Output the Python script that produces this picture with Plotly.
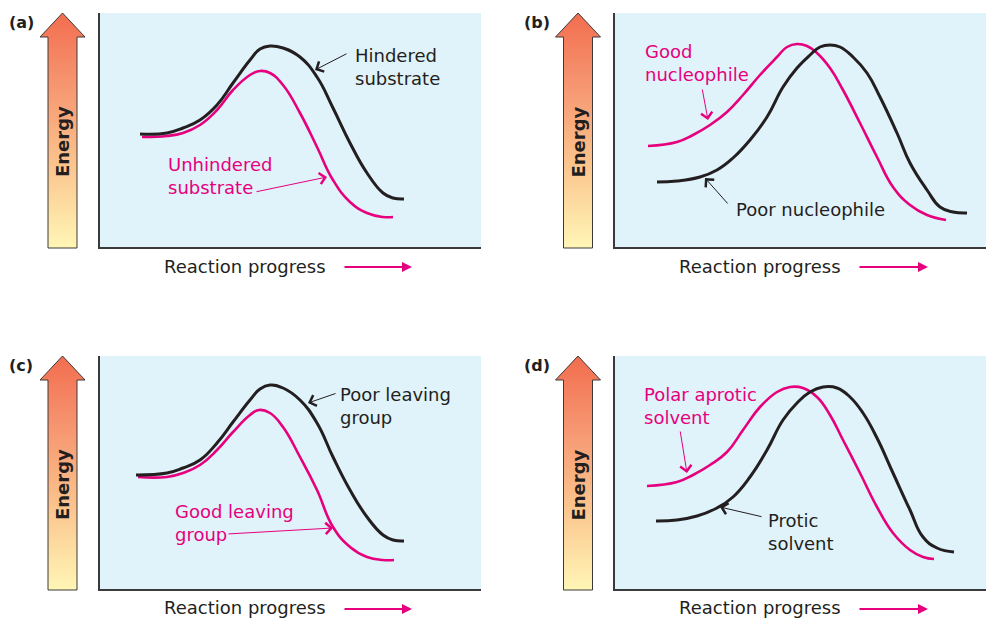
import plotly.graph_objects as go

W, H = 986, 619

# curves: reaction progress (x) vs energy (y) in box units
A_HINDERED_X = [40, 67, 83, 100, 117, 133, 150, 160, 170, 183, 200, 217, 233, 250, 267, 283, 293, 304]
A_HINDERED_Y = [113, 114, 119, 127, 142, 164, 187, 198, 201, 199, 190, 170, 139, 104, 74, 54, 49, 48]
A_UNHINDERED_X = [42, 67, 83, 100, 117, 133, 150, 160, 170, 183, 200, 217, 233, 250, 267, 283, 293]
A_UNHINDERED_Y = [110, 111, 114, 122, 137, 157, 172, 176, 174, 162, 134, 100, 67, 45, 34, 30, 30]

B_POOR_NU_X = [42, 62, 85, 102, 118, 135, 152, 168, 182, 195, 205, 215, 225, 238, 252, 265, 282, 295, 312, 325, 338, 352]
B_POOR_NU_Y = [65, 66, 70, 77, 89, 107, 130, 160, 179, 192, 200, 202, 200, 190, 174, 150, 114, 84, 57, 40, 35, 34]
B_GOOD_NU_X = [33, 62, 78, 95, 112, 128, 145, 162, 172, 182, 192, 202, 215, 228, 245, 262, 278, 295, 312, 331]
B_GOOD_NU_Y = [101, 105, 112, 122, 135, 152, 172, 190, 200, 203, 201, 194, 179, 157, 124, 90, 60, 42, 32, 27]

C_POOR_LG_X = [36, 67, 83, 100, 117, 133, 150, 160, 170, 183, 200, 217, 233, 250, 267, 283, 293, 304]
C_POOR_LG_Y = [114, 116, 121, 129, 146, 167, 189, 200, 204, 201, 189, 166, 132, 99, 72, 54, 49, 48]
C_GOOD_LG_X = [38, 67, 83, 100, 117, 133, 150, 159, 170, 183, 200, 217, 233, 250, 267, 283, 294]
C_GOOD_LG_Y = [112, 112, 116, 124, 139, 157, 174, 179, 176, 162, 132, 99, 62, 42, 32, 29, 29]

D_PROTIC_X = [41, 62, 82, 102, 118, 135, 152, 168, 182, 195, 208, 222, 235, 248, 262, 278, 295, 308, 322, 339]
D_PROTIC_Y = [68, 69, 73, 81, 92, 112, 139, 169, 186, 197, 202, 201, 192, 176, 151, 116, 79, 52, 41, 37]
D_APROTIC_X = [32, 62, 78, 95, 112, 128, 145, 162, 175, 188, 202, 215, 228, 245, 262, 278, 295, 308, 319]
D_APROTIC_Y = [103, 107, 114, 124, 137, 159, 182, 197, 202, 201, 192, 174, 149, 116, 82, 56, 39, 32, 30]

PANEL_LABELS = ["(a)", "(b)", "(c)", "(d)"]
BLACK_CURVES = [(A_HINDERED_X, A_HINDERED_Y), (B_POOR_NU_X, B_POOR_NU_Y),
                (C_POOR_LG_X, C_POOR_LG_Y), (D_PROTIC_X, D_PROTIC_Y)]
PINK_CURVES = [(A_UNHINDERED_X, A_UNHINDERED_Y), (B_GOOD_NU_X, B_GOOD_NU_Y),
               (C_GOOD_LG_X, C_GOOD_LG_Y), (D_APROTIC_X, D_APROTIC_Y)]

# curve labels: (text, colour key, text x, text y, arrow tail x, tail y, head x, head y)
CURVE_LABELS = [
    [("Hindered<br>substrate", "k", 253, 180.5, 248, 194, 215, 177),
     ("Unhindered<br>substrate", "m", 66, 71, 155, 55, 227, 70)],
    [("Good<br>nucleophile", "m", 28, 184.5, 87, 159, 93, 127),
     ("Poor nucleophile", "k", 119, 38, 114, 42, 90, 69)],
    [("Poor leaving<br>group", "k", 238, 183.5, 237, 196, 208, 186),
     ("Good leaving<br>group", "m", 73, 66, 127, 55, 233, 61)],
    [("Polar aprotic<br>solvent", "m", 27, 183.5, 65, 159, 72, 116),
     ("Protic<br>solvent", "k", 151, 57.5, 148, 72, 105, 82)],
]

# page layout in pixels: plot boxes (left, top, right, bottom)
BOXES = [(100, 13, 481, 247), (615, 13, 986, 247), (100, 356, 481, 589), (615, 356, 986, 589)]
ENERGY_CX = [62.5, 578, 62.5, 578]
PROGRESS_TEXT = [(245, 266), (760, 266), (245, 607), (760, 607)]
PROGRESS_ARROW = [(343, 412, 267), (858, 928, 267), (343, 412, 609), (858, 928, 609)]

BLACK = "#231F20"
MAGENTA = "#E6007E"
BLUE = "#E0F2FA"
FONT = "DejaVu Sans"

fig = go.Figure()
layout = dict(
    width=W, height=H, margin=dict(l=0, r=0, t=0, b=0),
    paper_bgcolor="white", plot_bgcolor="rgba(0,0,0,0)",
    showlegend=False, font=dict(family=FONT, color=BLACK, size=18),
)
shapes, annotations = [], []

for i, (l, t, r, b) in enumerate(BOXES):
    n = "" if i == 0 else str(i + 1)
    xa, ya = f"x{n}", f"y{n}"
    common = dict(showgrid=False, zeroline=False, showticklabels=False, ticks="",
                  showline=True, linecolor="#3A3A3A", linewidth=2, fixedrange=True)
    layout[f"xaxis{n}"] = dict(domain=[l / W, r / W], range=[0, r - l], anchor=ya, **common)
    layout[f"yaxis{n}"] = dict(domain=[1 - b / H, 1 - t / H], range=[0, b - t], anchor=xa, **common)

    shapes.append(dict(type="rect", xref=f"{xa} domain", yref=f"{ya} domain",
                       x0=0, x1=1, y0=0, y1=1, fillcolor=BLUE, line_width=0, layer="below"))

    px, py = PINK_CURVES[i]
    kx, ky = BLACK_CURVES[i]
    fig.add_trace(go.Scatter(x=px, y=py, mode="lines", xaxis=xa, yaxis=ya, hoverinfo="skip",
                             line=dict(color=MAGENTA, width=2.6, shape="spline", smoothing=1.3)))
    fig.add_trace(go.Scatter(x=kx, y=ky, mode="lines", xaxis=xa, yaxis=ya, hoverinfo="skip",
                             line=dict(color=BLACK, width=3, shape="spline", smoothing=1.3)))

    for text, ck, tx, ty, x0, y0, x1, y1 in CURVE_LABELS[i]:
        col = MAGENTA if ck == "m" else BLACK
        annotations.append(dict(xref=xa, yref=ya, x=tx, y=ty, text=text, showarrow=False,
                                xanchor="left", yanchor="middle", align="left",
                                font=dict(color=col, size=18, family=FONT)))
        annotations.append(dict(xref=xa, yref=ya, axref=xa, ayref=ya, x=x1, y=y1, ax=x0, ay=y0,
                                text="", showarrow=True, arrowhead=4, arrowsize=2.2,
                                arrowwidth=1, arrowcolor=col, standoff=0, startstandoff=0))

# overlay in page pixels for the energy arrows and axis captions
layout["xaxis5"] = dict(domain=[0, 1], range=[0, W], anchor="y5", visible=False, fixedrange=True)
layout["yaxis5"] = dict(domain=[0, 1], range=[H, 0], anchor="x5", visible=False, fixedrange=True)

for i, (l, t, r, b) in enumerate(BOXES):
    cx = ENERGY_CX[i]
    bottom = b + 1
    xs = [cx, cx + 22.5, cx + 14.5, cx + 14.5, cx - 14.5, cx - 14.5, cx - 22.5, cx]
    ys = [t, t + 24, t + 24, bottom, bottom, t + 24, t + 24, t]
    fig.add_trace(go.Scatter(
        x=xs, y=ys, xaxis="x5", yaxis="y5", mode="lines", fill="toself", hoverinfo="skip",
        line=dict(color="#3A3A3A", width=1),
        fillgradient=dict(type="vertical", colorscale=[
            [0, "#FFF6B6"], [0.35, "#FBC58E"], [0.7, "#F69570"], [1, "#F26D4F"]]),
    ))
    annotations.append(dict(xref="x5", yref="y5", x=cx - 0.5, y=t + 129, text="<b>Energy</b>",
                            textangle=-90, showarrow=False,
                            font=dict(size=18, color=BLACK, family=FONT)))
    annotations.append(dict(xref="x5", yref="y5", x=cx - 41.5, y=t + 9, text="<b>" + PANEL_LABELS[i] + "</b>",
                            showarrow=False, font=dict(size=16, color=BLACK, family=FONT)))

    tx, ty = PROGRESS_TEXT[i]
    annotations.append(dict(xref="x5", yref="y5", x=tx, y=ty, text="Reaction progress",
                            showarrow=False, font=dict(size=18, color=BLACK, family=FONT)))
    ax0, ax1, ay = PROGRESS_ARROW[i]
    annotations.append(dict(xref="x5", yref="y5", axref="x5", ayref="y5", x=ax1, y=ay, ax=ax0, ay=ay,
                            text="", showarrow=True, arrowhead=2, arrowsize=1, arrowwidth=2,
                            arrowcolor=MAGENTA, standoff=0))

layout["shapes"] = shapes
layout["annotations"] = annotations
fig.update_layout(**layout)

fig.write_html("out.html", config={"displayModeBar": False},
               post_script="document.body.style.margin='0px';")
